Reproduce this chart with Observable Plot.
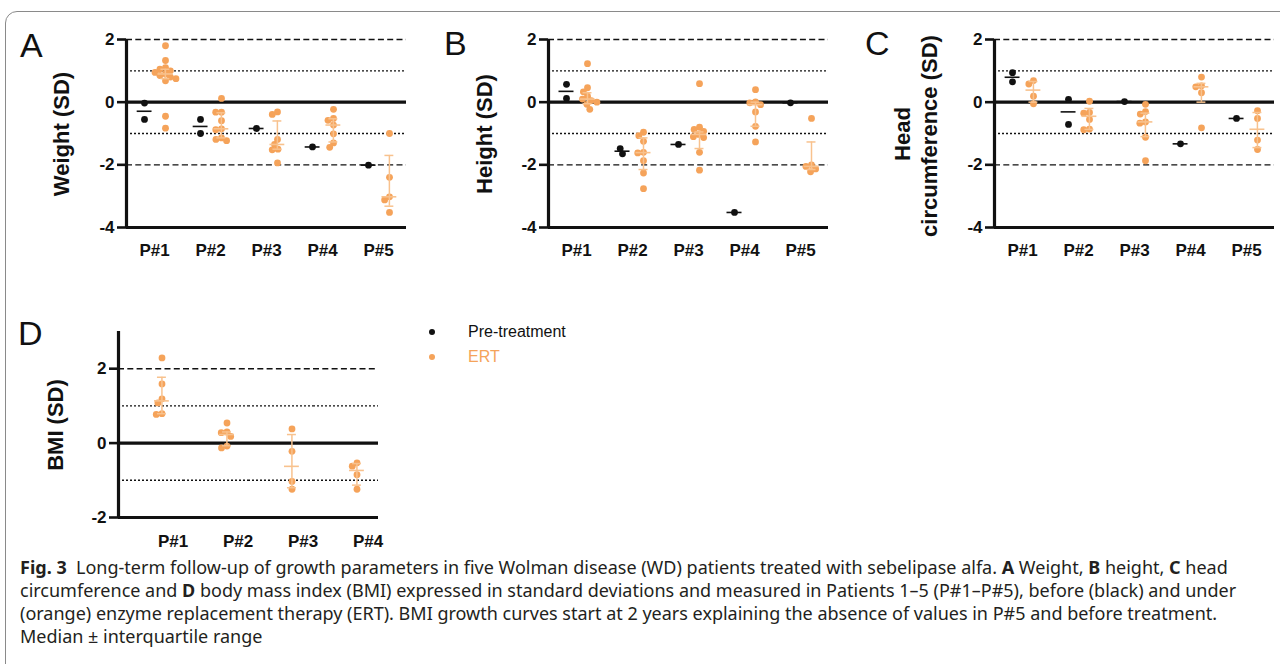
<!DOCTYPE html>
<html><head><meta charset="utf-8">
<script src="https://cdn.jsdelivr.net/npm/d3@7"></script>
<script src="https://cdn.jsdelivr.net/npm/@observablehq/plot@0.6"></script>
<style>
body{margin:0;background:#fff;}
#page{position:relative;width:1280px;height:664px;overflow:hidden;font-family:"Liberation Sans",Arial,sans-serif;color:#111;}
.abs{position:absolute;}
.letter{position:absolute;font-size:34px;line-height:34px;color:#111;}
.ylab{position:absolute;transform:translate(-50%,-50%) rotate(-90deg);font-weight:bold;font-size:22px;white-space:nowrap;line-height:22px;}
.cap{position:absolute;left:20px;font-family:"Noto Sans",sans-serif;font-size:18px;white-space:nowrap;color:#231f20;line-height:22px;}
.leg{position:absolute;font-size:16px;white-space:nowrap;line-height:18px;}
.legdot{position:absolute;width:6px;height:6px;border-radius:50%;}
#frame{position:absolute;left:5px;top:11px;width:1300px;height:700px;border:1px solid #8a8a8a;border-radius:12px;}
</style></head>
<body>
<div id="page">
  <div id="frame"></div>
  <div id="pA" class="abs" style="left:0;top:0"></div>
  <div id="pB" class="abs" style="left:420px;top:0"></div>
  <div id="pC" class="abs" style="left:840px;top:0"></div>
  <div id="pD" class="abs" style="left:0;top:310px"></div>

  <div class="letter" style="left:20px;top:28px">A</div>
  <div class="letter" style="left:444px;top:26px">B</div>
  <div class="letter" style="left:865px;top:26px">C</div>
  <div class="letter" style="left:18px;top:316px">D</div>

  <div class="ylab" style="left:62px;top:134px">Weight (SD)</div>
  <div class="ylab" style="left:485px;top:134px">Height (SD)</div>
  <div class="ylab" style="left:903px;top:134px">Head</div>
  <div class="ylab" style="left:930px;top:136px">circumference (SD)</div>
  <div class="ylab" style="left:56px;top:425px">BMI (SD)</div>

  <div class="legdot" style="left:429px;top:329px;background:#111"></div>
  <div class="leg" style="left:468px;top:323px;color:#111">Pre-treatment</div>
  <div class="legdot" style="left:429px;top:354px;background:#F5A35A"></div>
  <div class="leg" style="left:468px;top:348px;color:#F5A35A">ERT</div>

  <div class="cap" style="top:556px"><b>Fig. 3</b>&nbsp; Long-term follow-up of growth parameters in five Wolman disease (WD) patients treated with sebelipase alfa. <b>A</b> Weight, <b>B</b> height, <b>C</b> head</div>
  <div class="cap" style="top:579px">circumference and <b>D</b> body mass index (BMI) expressed in standard deviations and measured in Patients 1–5 (P#1–P#5), before (black) and under</div>
  <div class="cap" style="top:602px">(orange) enzyme replacement therapy (ERT). BMI growth curves start at 2 years explaining the absence of values in P#5 and before treatment.</div>
  <div class="cap" style="top:625px">Median ± interquartile range</div>
</div>
<script>
const patients5 = ["P#1","P#2","P#3","P#4","P#5"];
const patients4 = ["P#1","P#2","P#3","P#4"];
const yTicksMain = [-4,-2,0,2];
const yTicksBMI = [-2,0,2];
const dashedMain = [-2,2];
const dottedMain = [-1,1];
const dashedBMI = [2];
const dottedBMI = [-1,1];

const weightPre = [[-0.03,-0.55],[-0.55,-1.0],[-0.84],[-1.43],[-2.01]];
const weightERT = [[1.8,1.33,1.1,1.05,1.0,0.95,0.9,0.85,0.8,0.75,0.68,-0.45,-0.83],[0.12,-0.32,-0.32,-0.59,-0.85,-0.88,-1.14,-1.19,-1.23],[-0.31,-0.39,-1.19,-1.35,-1.5,-1.52,-1.94],[-0.23,-0.52,-0.58,-0.73,-1.01,-1.3,-1.44],[-1.0,-2.4,-3.02,-3.12,-3.52]];
const weightERTq3 = [1.05,-0.34,-0.6,-0.53,-1.7];
const weightERTq1 = [0.75,-1.14,-1.5,-1.27,-3.32];

const heightPre = [[0.57,0.12],[-1.65,-1.48],[-1.35],[-3.52],[-0.02]];
const heightERT = [[1.23,0.46,0.33,0.19,0.1,0.05,0.0,-0.07,-0.23],[-0.96,-1.07,-1.25,-1.6,-1.62,-1.87,-2.26,-2.76],[0.59,-0.8,-0.87,-0.93,-1.03,-1.1,-1.13,-1.6,-2.17],[0.4,0.01,-0.02,-0.08,-0.31,-0.77,-1.27],[-0.52,-2.0,-2.05,-2.13,-2.22]];
const heightERTq3 = [0.3,-1.14,-0.95,0.0,-1.27];
const heightERTq1 = [-0.05,-2.15,-1.48,-0.77,-2.15];

const headPre = [[0.65,0.94],[0.09,-0.71],[0.02],[-1.33],[-0.52]];
const headERT = [[0.69,0.58,0.19,-0.05],[0.03,-0.33,-0.35,-0.55,-0.86,-0.88],[-0.07,-0.3,-0.38,-0.63,-0.67,-1.12,-1.87],[0.8,0.52,0.49,0.3,-0.82],[-0.27,-0.52,-1.21,-1.51]];
const headERTq3 = [0.66,-0.2,-0.35,0.6,-0.33];
const headERTq1 = [0.0,-0.87,-1.1,0.0,-1.45];

const bmiERT = [[2.29,1.59,1.19,1.08,0.79,0.77],[0.54,0.3,0.28,0.18,-0.08,-0.13],[0.38,-0.22,-1.03,-1.24],[-0.53,-0.62,-0.85,-1.24]];
const bmiERTq3 = [1.77,0.3,0.23,-0.55];
const bmiERTq1 = [0.79,-0.07,-1.2,-1.13];

const INK = "#111";
const ORANGE = "#F5A35A";
const ORANGE_LIGHT = "#F8C28E";

function groupRows(patients, groups) {
  return groups.flatMap((vals, i) => vals.map(v => ({p: patients[i], v})));
}

function makePanel(o) {
  const n = o.patients.length;
  const half = (o.width - o.ml - o.mr) / n / 2;
  const [y0, y1] = o.yDomain;
  const marks = [
    Plot.ruleY(o.dashed, {stroke: INK, strokeWidth: 1.4, strokeDasharray: "6,3.3"}),
    Plot.ruleY(o.dotted, {stroke: INK, strokeWidth: 1.4, strokeDasharray: "2,2"}),
    Plot.ruleY([0, y0], {stroke: INK, strokeWidth: 3.2}),
    Plot.ruleX([o.patients[0]], {fx: d => d, x: () => -half, y1: () => y0, y2: () => y1, stroke: INK, strokeWidth: 3.2}),
    Plot.axisY({ticks: o.yTicks, tickFormat: d => String(d), tickSize: 9, tickPadding: 3, strokeWidth: 2.6, fontSize: 17, fontWeight: "bold", label: null}),
    Plot.axisFx({anchor: "bottom", tickSize: 0, tickPadding: o.fxPad, fontSize: 17, fontWeight: "bold", label: null, dx: o.labelDx || 0})
  ];
  if (o.pre) {
    const pre = groupRows(o.patients, o.pre);
    const preStats = o.pre.map((vals, i) => ({p: o.patients[i], med: d3.median(vals)}));
    marks.push(
      Plot.dot(pre, Plot.dodgeX({anchor: "middle", padding: -1}, {fx: "p", y: "v", r: 3.4, fill: INK, dx: o.preOff})),
      Plot.ruleY(preStats, {fx: "p", y: "med", x1: () => o.preOff - 7.5, x2: () => o.preOff + 7.5, stroke: INK, strokeWidth: 1.6})
    );
  }
  const ert = groupRows(o.patients, o.ert);
  const ertStats = o.ert.map((vals, i) => ({p: o.patients[i], med: d3.median(vals), q1: o.q1[i], q3: o.q3[i]}));
  marks.push(
    Plot.dot(ert, Plot.dodgeX({anchor: "middle", padding: -1}, {fx: "p", y: "v", r: 3.4, fill: ORANGE, dx: o.ertOff})),
    Plot.ruleX(ertStats, {fx: "p", x: () => o.ertOff, y1: "q1", y2: "q3", stroke: ORANGE_LIGHT, strokeWidth: 1.5}),
    Plot.ruleY(ertStats, {fx: "p", y: "q1", x1: () => o.ertOff - 4.5, x2: () => o.ertOff + 4.5, stroke: ORANGE_LIGHT, strokeWidth: 1.5}),
    Plot.ruleY(ertStats, {fx: "p", y: "q3", x1: () => o.ertOff - 4.5, x2: () => o.ertOff + 4.5, stroke: ORANGE_LIGHT, strokeWidth: 1.5}),
    Plot.ruleY(ertStats, {fx: "p", y: "med", x1: () => o.ertOff - 7.5, x2: () => o.ertOff + 7.5, stroke: ORANGE_LIGHT, strokeWidth: 1.6})
  );
  return Plot.plot({
    width: o.width, height: o.height,
    marginLeft: o.ml, marginRight: o.mr, marginTop: o.mt, marginBottom: o.mb,
    fx: {domain: o.patients, padding: 0, axis: null},
    x: {domain: [-half, half], axis: null},
    y: {domain: o.yDomain, axis: null},
    style: {background: "transparent", fontFamily: "'Liberation Sans', Arial, sans-serif", color: INK, overflow: "visible"},
    marks
  });
}

document.getElementById("pA").append(makePanel({
  patients: patients5, pre: weightPre, ert: weightERT, q1: weightERTq1, q3: weightERTq3,
  yDomain: [-4, 2], yTicks: yTicksMain, dashed: dashedMain, dotted: dottedMain,
  width: 420, height: 265, ml: 124, mr: 13, mt: 39, mb: 38, fxPad: 16, preOff: -10, ertOff: 11
}));
document.getElementById("pB").append(makePanel({
  patients: patients5, pre: heightPre, ert: heightERT, q1: heightERTq1, q3: heightERTq3,
  yDomain: [-4, 2], yTicks: yTicksMain, dashed: dashedMain, dotted: dottedMain,
  width: 420, height: 265, ml: 128, mr: 12, mt: 39, mb: 38, fxPad: 16, preOff: -10, ertOff: 11
}));
document.getElementById("pC").append(makePanel({
  patients: patients5, pre: headPre, ert: headERT, q1: headERTq1, q3: headERTq3,
  yDomain: [-4, 2], yTicks: yTicksMain, dashed: dashedMain, dotted: dottedMain,
  width: 440, height: 265, ml: 153, mr: 5, mt: 39, mb: 38, fxPad: 16, preOff: -10, ertOff: 11
}));
document.getElementById("pD").append(makePanel({
  patients: patients4, pre: null, ert: bmiERT, q1: bmiERTq1, q3: bmiERTq3,
  yDomain: [-2, 3], yTicks: yTicksBMI, dashed: dashedBMI, dotted: dottedBMI,
  width: 400, height: 245, ml: 117, mr: 21, mt: 21, mb: 38, fxPad: 17, ertOff: 11, labelDx: 22
}));
</script>
</body></html>
